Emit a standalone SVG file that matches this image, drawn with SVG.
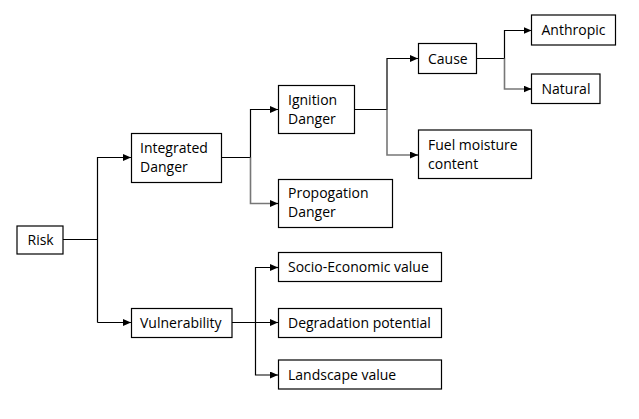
<svg xmlns="http://www.w3.org/2000/svg" width="639" height="419" viewBox="0 0 639 419">
<defs>
<marker id="ah" markerWidth="8" markerHeight="7" refX="8" refY="3.5" orient="auto" markerUnits="userSpaceOnUse">
<path d="M0,0 L8,3.5 L0,7 Z" fill="#000"/>
</marker>
<style>
.box{fill:#fff;stroke:#000;stroke-width:1.2}
.t{font-family:"Open Sans",Lato,"Liberation Sans",sans-serif;font-size:14px;fill:#000}
.c{fill:none;stroke:#000;stroke-width:1.2}
.g{fill:none;stroke:#777;stroke-width:1.6}
</style>
</defs>
<rect width="639" height="419" fill="#fff"/>
<g id="connectors">
<path class="c" d="M63,239.5 H97.5"/>
<path class="c" d="M97.5,322.5 V157.5 H131" marker-end="url(#ah)"/>
<path class="c" d="M97.5,322.5 H131" marker-end="url(#ah)"/>
<path class="c" d="M222,157.5 H250.5 V109.5 H278" marker-end="url(#ah)"/>
<path class="g" d="M250.5,157.5 V203.5 H272"/>
<path class="c" d="M272,203.5 H278" marker-end="url(#ah)"/>
<path class="c" d="M354,109.5 H387 V58.5 H418" marker-end="url(#ah)"/>
<path class="g" d="M387,109.5 V155 H412"/>
<path class="c" d="M412,155 H418" marker-end="url(#ah)"/>
<path class="c" d="M477,58.5 H504.5 V30.5 H531.5" marker-end="url(#ah)"/>
<path class="g" d="M504.5,58.5 V89 H525"/>
<path class="c" d="M525,89 H531.5" marker-end="url(#ah)"/>
<path class="c" d="M232,322.5 H278" marker-end="url(#ah)"/>
<path class="c" d="M278,267.5 H255.5 V375 H278" marker-end="url(#ah)"/>
<path class="c" d="M270,267.5 H278" marker-end="url(#ah)"/>
</g>
<g id="risk"><rect class="box" x="17" y="226" width="46" height="28"/><text class="t" x="27.5" y="244.5">Risk</text></g>
<g id="integrated"><rect class="box" x="131.5" y="133.5" width="90" height="49"/><text class="t" x="140" y="153">Integrated</text><text class="t" x="140" y="172">Danger</text></g>
<g id="vulnerability"><rect class="box" x="131.5" y="308.5" width="100.5" height="29"/><text class="t" x="140" y="327.5">Vulnerability</text></g>
<g id="ignition"><rect class="box" x="278.5" y="85.5" width="76" height="48"/><text class="t" x="288" y="104.5">Ignition</text><text class="t" x="288" y="123.5">Danger</text></g>
<g id="propogation"><rect class="box" x="278.5" y="179.5" width="114" height="48"/><text class="t" x="288" y="198">Propogation</text><text class="t" x="288" y="217">Danger</text></g>
<g id="cause"><rect class="box" x="418.5" y="43.5" width="58" height="30"/><text class="t" x="428" y="63.5">Cause</text></g>
<g id="fuel"><rect class="box" x="418.5" y="130" width="113" height="48.5"/><text class="t" x="428" y="150">Fuel moisture</text><text class="t" x="428" y="168.5">content</text></g>
<g id="anthropic"><rect class="box" x="531.5" y="15" width="84" height="30"/><text class="t" x="541.5" y="34.5">Anthropic</text></g>
<g id="natural"><rect class="box" x="531.5" y="74" width="68.5" height="29.5"/><text class="t" x="541.5" y="93.5">Natural</text></g>
<g id="socio"><rect class="box" x="278.5" y="252.5" width="163" height="29"/><text class="t" x="288" y="272">Socio-Economic value</text></g>
<g id="degradation"><rect class="box" x="278.5" y="308.5" width="163" height="29"/><text class="t" x="288" y="327.5">Degradation potential</text></g>
<g id="landscape"><rect class="box" x="278.5" y="360" width="163" height="29"/><text class="t" x="288" y="380">Landscape value</text></g>
</svg>
